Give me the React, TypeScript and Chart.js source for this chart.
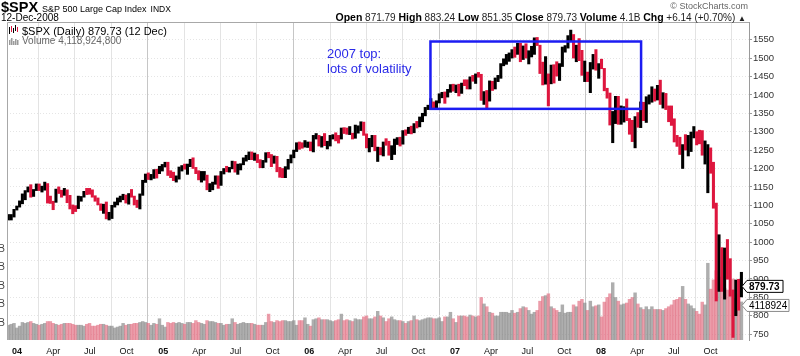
import React, { useEffect, useRef } from 'react';
import { Chart, registerables } from 'chart.js';

Chart.register(...registerables);

const FONT = "'Liberation Sans', Arial, Helvetica, sans-serif";

// Weekly bars (week ending Friday). First week ends 5 Dec 2003.
const FIRST_WEEK_END = Date.UTC(2003, 11, 5);

const low2003 = [1060, 1060, 1068, 1087];
const high2003 = [1075, 1075, 1089, 1098];
const close2003 = [1061, 1074, 1089, 1096];
const vol2003 = [1.6, 1.7, 1.8, 1.3];

const low2004 = [
  1095, 1104, 1115, 1136, 1122,
  1124, 1140, 1140, 1136,
  1141, 1106, 1105, 1088,
  1108, 1132, 1122, 1127, 1107,
  1090, 1077, 1083, 1091,
  1111, 1122, 1129, 1130,
  1122, 1111, 1101, 1086, 1078,
  1063, 1060, 1064, 1095,
  1101, 1109, 1115, 1106,
  1103, 1122, 1101, 1094, 1090,
  1127, 1162, 1170, 1169,
  1173, 1174, 1186, 1193, 1204,
];
const high2004 = [
  1112, 1131, 1140, 1150, 1156,
  1143, 1158, 1158, 1152,
  1163, 1159, 1125, 1111,
  1144, 1150, 1141, 1146, 1142,
  1127, 1101, 1099, 1125,
  1124, 1138, 1146, 1146,
  1142, 1126, 1120, 1104, 1103,
  1109, 1081, 1100, 1109,
  1120, 1125, 1130, 1128,
  1132, 1143, 1125, 1114, 1131,
  1168, 1185, 1188, 1184,
  1197, 1198, 1206, 1211, 1217,
];
const close2004 = [
  1108, 1122, 1140, 1142, 1131,
  1143, 1146, 1144, 1145,
  1157, 1121, 1110, 1108,
  1142, 1139, 1135, 1141, 1107,
  1099, 1096, 1094, 1121,
  1123, 1137, 1135, 1134,
  1125, 1113, 1101, 1086, 1102,
  1064, 1065, 1098, 1108,
  1114, 1124, 1129, 1110,
  1132, 1122, 1108, 1096, 1130,
  1166, 1184, 1170, 1183,
  1191, 1189, 1194, 1210, 1212,
];
const vol2004 = [
  1.5, 1.9, 1.8, 1.9, 2.0,
  1.8, 1.7, 1.6, 1.7,
  1.8, 2.0, 2.0, 1.8,
  1.7, 1.6, 1.7, 1.8, 1.8,
  1.8, 1.7, 1.6, 1.6,
  1.6, 1.5, 1.7, 1.8,
  1.5, 1.5, 1.6, 1.7, 1.7,
  1.6, 1.5, 1.5, 1.3,
  1.4, 1.5, 1.8, 1.6,
  1.7, 1.7, 1.8, 1.8, 1.9,
  2.0, 1.9, 1.8, 1.6,
  1.8, 1.7, 2.3, 1.6, 1.4,
];

const low2005 = [
  1181, 1175, 1167, 1163,
  1171, 1193, 1198, 1184,
  1205, 1200, 1186, 1169,
  1163, 1168, 1142, 1137, 1142,
  1157, 1146, 1154, 1185,
  1191, 1190, 1199, 1190,
  1184, 1196, 1210, 1220, 1224,
  1224, 1222, 1216, 1202,
  1202, 1217, 1229, 1205, 1214,
  1191, 1176, 1175, 1175,
  1198, 1215, 1229, 1246,
  1252, 1255, 1258, 1257, 1248,
];
const high2005 = [
  1217, 1194, 1190, 1180,
  1204, 1208, 1212, 1212,
  1225, 1229, 1203, 1194,
  1192, 1192, 1182, 1159, 1163,
  1180, 1180, 1192, 1200,
  1206, 1203, 1220, 1219,
  1212, 1213, 1229, 1236, 1245,
  1245, 1242, 1238, 1224,
  1222, 1243, 1244, 1238, 1234,
  1233, 1203, 1200, 1205,
  1225, 1237, 1250, 1270,
  1272, 1270, 1276, 1272, 1272,
];
const close2005 = [
  1186, 1184, 1168, 1171,
  1203, 1205, 1202, 1211,
  1222, 1200, 1190, 1171,
  1173, 1181, 1143, 1152, 1157,
  1179, 1154, 1189, 1199,
  1196, 1201, 1217, 1192,
  1212, 1212, 1228, 1229, 1234,
  1226, 1238, 1220, 1205,
  1218, 1242, 1238, 1215, 1229,
  1196, 1187, 1180, 1198,
  1220, 1235, 1248, 1268,
  1265, 1259, 1267, 1269, 1248,
];
const vol2005 = [
  1.9, 1.8, 1.9, 1.8,
  1.9, 1.8, 1.7, 1.9,
  1.9, 1.8, 2.1, 1.9,
  1.8, 1.7, 2.1, 2.0, 2.0,
  1.9, 1.8, 1.8, 1.6,
  1.7, 1.7, 2.3, 1.9,
  1.7, 1.8, 1.9, 1.8, 1.8,
  1.8, 1.7, 1.6, 1.6,
  1.6, 1.9, 2.8, 2.0, 1.9,
  2.1, 2.0, 2.1, 2.1,
  2.0, 2.0, 2.1, 1.6,
  2.1, 2.1, 2.4, 1.7, 1.5,
];

const low2006 = [
  1245, 1280, 1261, 1258,
  1262, 1253, 1261, 1280,
  1275, 1269, 1280, 1295, 1293,
  1292, 1280, 1282, 1296,
  1303, 1290, 1256, 1245,
  1259, 1248, 1219, 1237, 1234,
  1263, 1236, 1224, 1238,
  1265, 1261, 1266, 1290,
  1295, 1294, 1297, 1310, 1313,
  1327, 1343, 1360, 1360,
  1361, 1364, 1378, 1392,
  1377, 1394, 1407, 1410, 1406,
];
const high2006 = [
  1290, 1295, 1290, 1287,
  1295, 1274, 1290, 1292,
  1297, 1290, 1310, 1311, 1310,
  1314, 1296, 1318, 1316,
  1327, 1326, 1294, 1282,
  1290, 1290, 1258, 1257, 1272,
  1281, 1274, 1262, 1280,
  1284, 1285, 1303, 1305,
  1312, 1315, 1322, 1328, 1340,
  1350, 1366, 1372, 1390,
  1381, 1384, 1403, 1407,
  1408, 1415, 1428, 1429, 1427,
];
const close2006 = [
  1286, 1288, 1262, 1284,
  1264, 1267, 1287, 1289,
  1287, 1281, 1307, 1303, 1295,
  1295, 1289, 1311, 1311,
  1326, 1291, 1267, 1280,
  1288, 1252, 1252, 1245, 1270,
  1265, 1236, 1240, 1279,
  1279, 1267, 1302, 1295,
  1311, 1299, 1321, 1315, 1336,
  1350, 1366, 1369, 1377,
  1364, 1381, 1401, 1401,
  1397, 1410, 1427, 1411, 1418,
];
const vol2006 = [
  2.2, 2.3, 2.4, 2.2,
  2.2, 2.2, 2.1, 2.0,
  2.1, 2.2, 2.8, 2.1, 2.2,
  2.1, 2.0, 2.3, 2.2,
  2.2, 2.5, 2.6, 2.3,
  2.3, 2.5, 3.1, 2.6, 2.4,
  2.0, 2.3, 2.5, 2.2,
  2.1, 2.1, 2.0, 1.8,
  2.0, 2.1, 2.6, 2.2, 2.1,
  2.2, 2.3, 2.4, 2.4,
  2.3, 2.3, 2.4, 2.0,
  2.5, 2.5, 3.0, 2.3, 1.9,
];

const low2007 = [
  1397, 1404, 1425, 1416,
  1416, 1437, 1431, 1448,
  1385, 1374, 1364, 1383, 1412,
  1416, 1436, 1445, 1479,
  1483, 1491, 1500, 1502,
  1510, 1490, 1496, 1500, 1484,
  1503, 1510, 1534, 1458,
  1427, 1429, 1370, 1430, 1432,
  1451, 1439, 1477, 1516,
  1527, 1547, 1500, 1490,
  1493, 1453, 1436, 1436, 1406,
  1470, 1467, 1445, 1471,
];
const high2007 = [
  1429, 1432, 1441, 1441,
  1449, 1453, 1457, 1461,
  1456, 1409, 1412, 1438, 1437,
  1446, 1453, 1485, 1498,
  1510, 1514, 1523, 1530,
  1540, 1540, 1533, 1539, 1520,
  1532, 1555, 1556, 1535,
  1489, 1504, 1457, 1481, 1482,
  1490, 1485, 1530, 1534,
  1561, 1576, 1564, 1535,
  1553, 1521, 1492, 1462, 1488,
  1510, 1523, 1485, 1497,
];
const close2007 = [
  1410, 1431, 1430, 1422,
  1448, 1438, 1456, 1451,
  1387, 1403, 1387, 1436, 1421,
  1444, 1453, 1484, 1494,
  1506, 1506, 1523, 1516,
  1536, 1508, 1533, 1503, 1503,
  1530, 1552, 1534, 1459,
  1433, 1454, 1446, 1479, 1474,
  1454, 1484, 1526, 1527,
  1558, 1562, 1501, 1535,
  1510, 1454, 1459, 1441, 1481,
  1505, 1468, 1485, 1478,
];
const vol2007 = [
  2.6, 2.6, 2.6, 2.5,
  2.7, 2.6, 2.5, 2.6,
  4.6, 3.9, 3.6, 3.0, 2.9,
  2.6, 2.6, 3.0, 3.0,
  3.0, 2.9, 3.2, 2.9,
  3.0, 3.4, 3.6, 3.5, 3.2,
  2.8, 3.0, 3.2, 4.2,
  4.7, 4.8, 5.0, 3.6, 3.4,
  3.2, 3.0, 3.8, 2.9,
  3.0, 3.0, 3.8, 3.6,
  4.2, 4.4, 4.0, 3.2, 4.2,
  3.6, 3.7, 3.8, 2.5,
];

const low2008 = [
  1411, 1391, 1318, 1270,
  1322, 1320, 1320, 1326, 1330,
  1293, 1273, 1256, 1312,
  1311, 1330, 1325, 1375,
  1380, 1383, 1386, 1374, 1364,
  1360, 1327, 1317, 1272,
  1260, 1238, 1200, 1250,
  1234, 1246, 1283, 1264, 1267,
  1236, 1212, 1134, 1187,
  1092, 840, 866, 866, 845,
  899, 853, 741, 800,
  815, 851,
];
const high2008 = [
  1472, 1418, 1405, 1355,
  1396, 1396, 1370, 1368, 1389,
  1336, 1331, 1341, 1352,
  1381, 1380, 1395, 1400,
  1422, 1416, 1426, 1440, 1406,
  1404, 1370, 1370, 1335,
  1290, 1285, 1265, 1292,
  1290, 1299, 1314, 1300, 1304,
  1303, 1275, 1265, 1256,
  1217, 1106, 1020, 985, 984,
  1007, 955, 870, 897,
  899, 918,
];
const close2008 = [
  1412, 1401, 1325, 1331,
  1395, 1331, 1350, 1353, 1331,
  1293, 1288, 1330, 1315,
  1370, 1333, 1390, 1398,
  1414, 1388, 1425, 1376, 1400,
  1361, 1360, 1318, 1278,
  1263, 1240, 1261, 1258,
  1260, 1296, 1298, 1292, 1283,
  1242, 1252, 1255, 1213,
  1099, 899, 941, 877, 969,
  931, 873, 800, 896,
  876, 879.73,
];
const vol2008 = [
  4.1, 4.6, 5.0, 6.2,
  4.6, 4.2, 3.8, 3.9, 4.0,
  4.4, 4.6, 5.1, 3.9,
  3.5, 3.3, 3.6, 3.3,
  3.6, 3.3, 3.3, 3.3, 3.2,
  3.4, 3.6, 3.8, 4.3,
  4.4, 4.6, 5.8, 4.4,
  3.9, 3.7, 3.4, 3.1, 2.8,
  4.1, 3.8, 8.3, 5.5,
  6.5, 7.5, 6.8, 6.0, 5.6,
  5.4, 5.3, 6.6, 4.5,
  5.0, 4.118924,
];

// Axis labels
const yearLabels = ['04', '05', '06', '07', '08'];
const monthLabels = ['Apr', 'Jul', 'Oct'];
const priceTicks = [750, 800, 850, 900, 950, 1000, 1050, 1100, 1150, 1200, 1250, 1300, 1350, 1400, 1450, 1500, 1550];
const volumeTicks = [2, 4, 6, 8, 10]; // billions

// Annotation box (2007 top) in data units
const BOX_FROM = Date.UTC(2006, 9, 24);
const BOX_TO = Date.UTC(2008, 3, 3);
const BOX_TOP = 1545;
const BOX_BOTTOM = 1362;

const LAST_CLOSE_TEXT = '879.73';
const LAST_VOLUME_TEXT = '4118924';

// ---- derived tables ----
const DAY = 86400000;
const ORIGIN = Date.UTC(2004, 0, 1);
const toDay = (t: number) => (t - ORIGIN) / DAY;

const lows = [...low2003, ...low2004, ...low2005, ...low2006, ...low2007, ...low2008];
const highs = [...high2003, ...high2004, ...high2005, ...high2006, ...high2007, ...high2008];
const closes = [...close2003, ...close2004, ...close2005, ...close2006, ...close2007, ...close2008];
const volumes = [...vol2003, ...vol2004, ...vol2005, ...vol2006, ...vol2007, ...vol2008];

const weekPos = closes.map((_, i) => toDay(FIRST_WEEK_END + (7 * i - 2) * DAY));
const isDown = closes.map((c, i) => i > 0 && c < closes[i - 1]);

const quarterTicks: { value: number; label: string; year: boolean }[] = [];
yearLabels.forEach((yl, yi) => {
  const yr = 2004 + yi;
  quarterTicks.push({ value: toDay(Date.UTC(yr, 0, 1)), label: yl, year: true });
  monthLabels.forEach((ml, mi) =>
    quarterTicks.push({ value: toDay(Date.UTC(yr, 3 * (mi + 1), 1)), label: ml, year: false })
  );
});
const tickInfo = (v: any) => quarterTicks.find((q) => Math.abs(q.value - v) < 0.01);

const X_MIN = -32.5;
const X_MAX = 1824;

const PRICE_UP = '#000000';
const PRICE_DOWN = 'rgb(222,22,62)';
const VOL_UP = 'rgba(135,135,135,0.68)';
const VOL_DOWN = 'rgba(224,105,125,0.65)';

function drawTag(ctx: CanvasRenderingContext2D, yMid: number, text: string, width: number, border: string, bold: boolean) {
  const h = 12;
  const x0 = 747;
  const x1 = x0 + width;
  ctx.beginPath();
  ctx.moveTo(742, yMid);
  ctx.lineTo(x0, yMid - h / 2);
  ctx.lineTo(x1, yMid - h / 2);
  ctx.lineTo(x1, yMid + h / 2);
  ctx.lineTo(x0, yMid + h / 2);
  ctx.closePath();
  ctx.fillStyle = '#ffffff';
  ctx.fill();
  ctx.strokeStyle = border;
  ctx.lineWidth = 1;
  ctx.stroke();
  ctx.fillStyle = '#000';
  ctx.font = `${bold ? 'bold ' : ''}10px ${FONT}`;
  ctx.textAlign = 'left';
  ctx.textBaseline = 'middle';
  ctx.fillText(text, x0 + 2, yMid + 0.5);
}

const overlayPlugin = {
  id: 'overlay',
  afterDatasetsDraw(chart: any) {
    const { ctx, chartArea: a, scales } = chart;
    const x = scales.x;
    const y = scales.y;
    const yv = scales.yVol;
    ctx.save();
    // frame
    ctx.strokeStyle = '#a8a8a8';
    ctx.lineWidth = 1;
    ctx.beginPath();
    ctx.moveTo(a.left + 0.5, a.bottom);
    ctx.lineTo(a.left + 0.5, a.top + 0.5);
    ctx.lineTo(a.right, a.top + 0.5);
    ctx.stroke();

    // annotation rectangle
    const bx0 = x.getPixelForValue(toDay(BOX_FROM));
    const bx1 = x.getPixelForValue(toDay(BOX_TO));
    const by0 = y.getPixelForValue(BOX_TOP);
    const by1 = y.getPixelForValue(BOX_BOTTOM);
    ctx.strokeStyle = '#1c1cf2';
    ctx.lineWidth = 2.5;
    ctx.strokeRect(bx0, by0, bx1 - bx0, by1 - by0);

    // legend icons
    ctx.lineWidth = 1;
    const bars = [
      [9, 27, 34, '#000'],
      [11, 26, 32, PRICE_DOWN],
      [13, 28, 33, '#000'],
      [15, 25, 31, '#000'],
      [17, 27, 32, PRICE_DOWN],
    ];
    bars.forEach(([bx, t, b, c]: any) => {
      ctx.strokeStyle = c;
      ctx.beginPath();
      ctx.moveTo(bx + 0.5, t);
      ctx.lineTo(bx + 0.5, b);
      ctx.stroke();
    });
    ctx.fillStyle = '#9a9a9a';
    [[9, 40], [11, 38], [13, 41], [15, 39], [17, 40]].forEach(([bx, t]) => ctx.fillRect(bx, t, 1.5, 45 - t));

    // left volume axis labels (clipped at the page edge)
    ctx.fillStyle = '#444';
    ctx.font = `10px ${FONT}`;
    ctx.textAlign = 'right';
    ctx.textBaseline = 'middle';
    volumeTicks.forEach((v) => ctx.fillText(`${v}B`, 5, yv.getPixelForValue(v) + 1.5));

    // last value tags on the right
    drawTag(ctx, y.getPixelForValue(closes[closes.length - 1]), LAST_CLOSE_TEXT, 36, '#000', true);
    drawTag(ctx, yv.getPixelForValue(volumes[volumes.length - 1]) + 3.5, LAST_VOLUME_TEXT, 42, '#8a8a8a', false);
    ctx.restore();
  },
};

export default function App() {
  const ref = useRef<HTMLCanvasElement>(null);

  useEffect(() => {
    document.body.style.margin = '0';
    const chart = new Chart(ref.current as HTMLCanvasElement, {
      type: 'bar',
      data: {
        datasets: [
          {
            label: '$SPX',
            data: weekPos.map((x, i) => ({ x, y: [lows[i], highs[i]] })),
            yAxisID: 'y',
            backgroundColor: isDown.map((d) => (d ? PRICE_DOWN : PRICE_UP)),
            barThickness: 2.4,
            grouped: false,
            borderWidth: 0,
            order: 0,
          },
          {
            label: 'Volume',
            data: weekPos.map((x, i) => ({ x, y: volumes[i] })),
            yAxisID: 'yVol',
            backgroundColor: isDown.map((d) => (d ? VOL_DOWN : VOL_UP)),
            barThickness: 2.8,
            grouped: false,
            borderWidth: 0,
            order: 1,
          },
        ],
      } as any,
      options: {
        animation: false,
        responsive: false,
        devicePixelRatio: 1,
        layout: { padding: { left: 7, top: 22, right: 0, bottom: 0 } },
        plugins: { legend: { display: false }, tooltip: { enabled: false }, title: { display: false } },
        scales: {
          x: {
            type: 'linear',
            min: X_MIN,
            max: X_MAX,
            offset: false,
            afterBuildTicks: (s: any) => {
              s.ticks = quarterTicks.map((q) => ({ value: q.value }));
            },
            afterFit: (s: any) => {
              s.height = 16;
            },
            grid: {
              drawTicks: false,
              color: (c: any) => (tickInfo(c.tick?.value)?.year ? '#c6c6c6' : '#e3e3e3'),
            },
            border: { display: false },
            ticks: {
              autoSkip: false,
              maxRotation: 0,
              minRotation: 0,
              padding: 6,
              labelOffset: -3,
              color: '#111',
              font: (c: any) => ({ family: FONT, size: 9, weight: tickInfo(c.tick?.value)?.year ? 'bold' : 'normal' }),
              callback: (v: any) => tickInfo(v)?.label ?? '',
            },
          },
          y: {
            type: 'linear',
            position: 'right',
            min: 734,
            max: 1598,
            afterBuildTicks: (s: any) => {
              s.ticks = priceTicks.map((v) => ({ value: v }));
            },
            afterFit: (s: any) => {
              s.width = 51;
            },
            grid: { color: '#e5e5e5', tickLength: 3, tickColor: '#9a9a9a' },
            border: { display: true, color: '#9a9a9a', dash: [1, 2] },
            ticks: {
              padding: 1,
              color: '#333',
              font: { family: FONT, size: 9.5 },
              callback: (v: any) => String(v),
            },
          },
          yVol: { type: 'linear', display: false, min: 0, max: 34.4 },
        },
      } as any,
      plugins: [overlayPlugin as any],
    });
    return () => chart.destroy();
  }, []);

  return (
    <div
      style={{
        position: 'fixed',
        left: 0,
        top: 0,
        width: 800,
        height: 356,
        background: '#fff',
        overflow: 'hidden',
        fontFamily: FONT,
        color: '#000',
      }}
    >
      <canvas
        ref={ref}
        width={800}
        height={356}
        style={{ position: 'absolute', left: 0, top: 0, width: 800, height: 356, display: 'block' }}
      />
      <div style={{ position: 'absolute', left: 1, top: 0, fontSize: 14.5, lineHeight: '14.5px', whiteSpace: 'nowrap' }}>
        <span style={{ fontWeight: 700 }}>$SPX</span>
        <span style={{ fontSize: 9, marginLeft: 4 }}>S&amp;P 500 Large Cap Index</span>
        <span style={{ fontSize: 8.5, marginLeft: 4 }}>INDX</span>
      </div>
      <div style={{ position: 'absolute', right: 52, top: 2, fontSize: 9, lineHeight: '9px', color: '#666', whiteSpace: 'nowrap' }}>
        © StockCharts.com
      </div>
      <div style={{ position: 'absolute', left: 1, top: 13, fontSize: 10, lineHeight: '10px', whiteSpace: 'nowrap' }}>
        12-Dec-2008
      </div>
      <div
        style={{
          position: 'absolute',
          right: 54,
          top: 12,
          fontSize: 10,
          lineHeight: '10px',
          whiteSpace: 'nowrap',
          color: '#222',
        }}
      >
        <b style={{ fontSize: 10.5, color: '#000' }}>Open</b> 871.79 <b style={{ fontSize: 10.5, color: '#000' }}>High</b> 883.24{' '}
        <b style={{ fontSize: 10.5, color: '#000' }}>Low</b> 851.35 <b style={{ fontSize: 10.5, color: '#000' }}>Close</b> 879.73{' '}
        <b style={{ fontSize: 10.5, color: '#000' }}>Volume</b> 4.1B <b style={{ fontSize: 10.5, color: '#000' }}>Chg</b> +6.14
        (+0.70%) <span style={{ fontSize: 8 }}>▲</span>
      </div>
      <div style={{ position: 'absolute', left: 22, top: 26, fontSize: 11, lineHeight: '11px', whiteSpace: 'nowrap' }}>
        $SPX (Daily) 879.73 (12 Dec)
      </div>
      <div style={{ position: 'absolute', left: 22, top: 36, fontSize: 10, lineHeight: '10px', whiteSpace: 'nowrap', color: '#666' }}>
        Volume 4,118,924,800
      </div>
      <div
        style={{
          position: 'absolute',
          left: 327,
          top: 46,
          fontSize: 13,
          lineHeight: '15px',
          color: '#2a2ae8',
          whiteSpace: 'nowrap',
        }}
      >
        2007 top:
        <br />
        lots of volatility
      </div>
    </div>
  );
}
